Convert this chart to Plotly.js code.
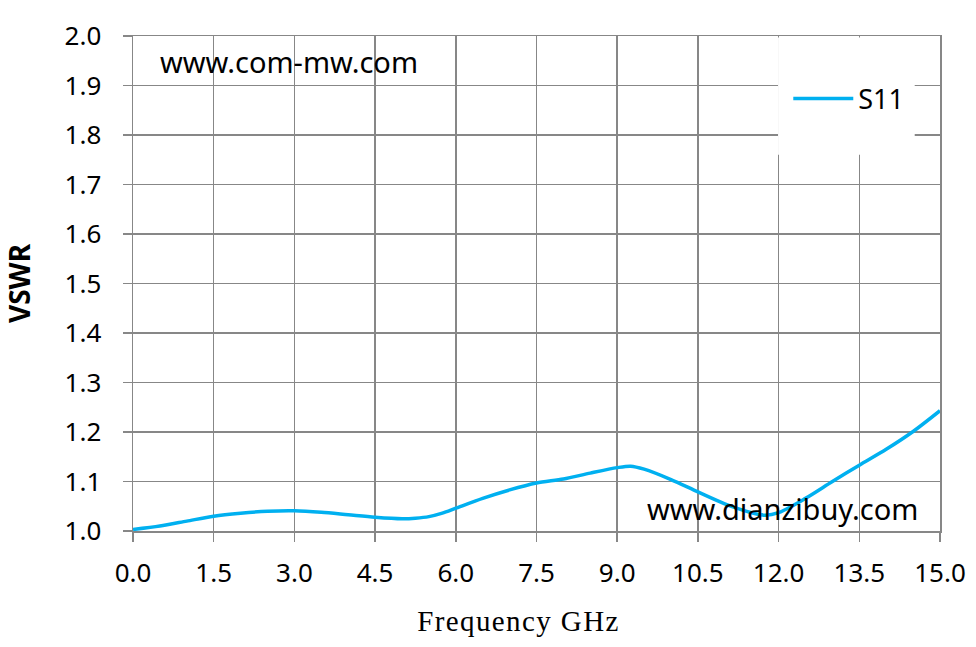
<!DOCTYPE html>
<html>
<head>
<meta charset="utf-8">
<script src="https://cdn.plot.ly/plotly-3.0.1.min.js"></script>
<style>
html,body{margin:0;padding:0;background:#fff;}
#chart{width:976px;height:647px;}
#chart .xtitle{letter-spacing:1.4px;transform:translateX(-18px);}
</style>
</head>
<body>
<div id="chart"></div>
<script>
const freq = [0.0, 0.5, 1.0, 1.5, 2.0, 2.5, 3.0, 3.5, 4.0, 4.5, 5.0, 5.25, 5.5, 5.75, 6.0, 6.5, 7.0, 7.5, 8.0, 8.5, 9.0, 9.25, 9.5, 10.0, 10.5, 11.0, 11.5, 11.75, 12.0, 12.5, 13.0, 13.5, 14.0, 14.5, 15.0];
const vswr = [1.003, 1.010, 1.020, 1.030, 1.036, 1.040, 1.041, 1.038, 1.033, 1.028, 1.025, 1.026, 1.029, 1.036, 1.046, 1.066, 1.083, 1.097, 1.105, 1.117, 1.128, 1.131, 1.125, 1.104, 1.079, 1.055, 1.037, 1.032, 1.037, 1.066, 1.100, 1.133, 1.165, 1.201, 1.243];
const xTicks = [0, 1.5, 3, 4.5, 6, 7.5, 9, 10.5, 12, 13.5, 15];
const xTickText = ['0.0', '1.5', '3.0', '4.5', '6.0', '7.5', '9.0', '10.5', '12.0', '13.5', '15.0'];
const yTicks = [1.0, 1.1, 1.2, 1.3, 1.4, 1.5, 1.6, 1.7, 1.8, 1.9, 2.0];
const yTickText = ['1.0', '1.1', '1.2', '1.3', '1.4', '1.5', '1.6', '1.7', '1.8', '1.9', '2.0'];
const seriesName = 'S11';

const gridColor = '#878787';
const tickFont = {family: 'Noto Sans, Open Sans, sans-serif', size: 26, color: '#000'};

const trace = {
  x: freq, y: vswr, type: 'scatter', mode: 'lines', name: seriesName,
  line: {color: '#00B0F0', width: 3.5, shape: 'spline', smoothing: 0.8}
};

const layout = {
  width: 976, height: 647,
  margin: {l: 133, r: 36, t: 36, b: 116},
  paper_bgcolor: '#fff', plot_bgcolor: '#fff',
  showlegend: true,
  legend: {
    x: 0.812, y: 0.873, xanchor: 'left', yanchor: 'middle',
    bgcolor: 'rgba(0,0,0,0)', borderwidth: 0,
    font: {family: 'Noto Sans, Open Sans, sans-serif', size: 27, color: '#000'},
    itemwidth: 60
  },
  xaxis: {
    range: [0, 15], tickvals: xTicks, ticktext: xTickText,
    showgrid: true, gridcolor: gridColor, gridwidth: 1.5,
    showline: true, linecolor: gridColor, linewidth: 1.5, mirror: true,
    ticks: 'outside', ticklen: 9, tickcolor: gridColor, tickwidth: 1.5,
    tickfont: tickFont, ticklabelstandoff: 9, zeroline: false,
    title: {text: 'Frequency GHz', font: {family: 'Liberation Serif, DejaVu Serif, serif', size: 29, color: '#000'}, standoff: 22}
  },
  yaxis: {
    range: [1.0, 2.0], tickvals: yTicks, ticktext: yTickText,
    showgrid: true, gridcolor: gridColor, gridwidth: 1.5,
    showline: true, linecolor: gridColor, linewidth: 1.5, mirror: true,
    ticks: 'outside', ticklen: 9, tickcolor: gridColor, tickwidth: 1.5,
    tickfont: tickFont, ticklabelstandoff: 16, zeroline: false,
    title: {text: '<b>VSWR</b>', font: {family: 'Noto Sans, Open Sans, sans-serif', size: 28, color: '#000'}, standoff: 30}
  },
  shapes: [
    {type: 'rect', xref: 'x', yref: 'y', x0: 11.99, x1: 14.53, y0: 1.76, y1: 1.997,
     fillcolor: '#fff', line: {width: 0}, layer: 'between'}
  ],
  annotations: [
    {text: 'www.com-mw.com', xref: 'paper', yref: 'paper', x: 0.031, y: 0.948, xanchor: 'left', yanchor: 'middle',
     showarrow: false, font: {family: 'Noto Sans, Open Sans, sans-serif', size: 29, color: '#000'}},
    {text: 'www.dianzibuy.com', xref: 'paper', yref: 'paper', x: 0.975, y: 0.046, xanchor: 'right', yanchor: 'middle',
     showarrow: false, font: {family: 'Noto Sans, Open Sans, sans-serif', size: 29, color: '#000'}}
  ]
};

Plotly.newPlot('chart', [trace], layout, {displayModeBar: false, staticPlot: true});
</script>
</body>
</html>
